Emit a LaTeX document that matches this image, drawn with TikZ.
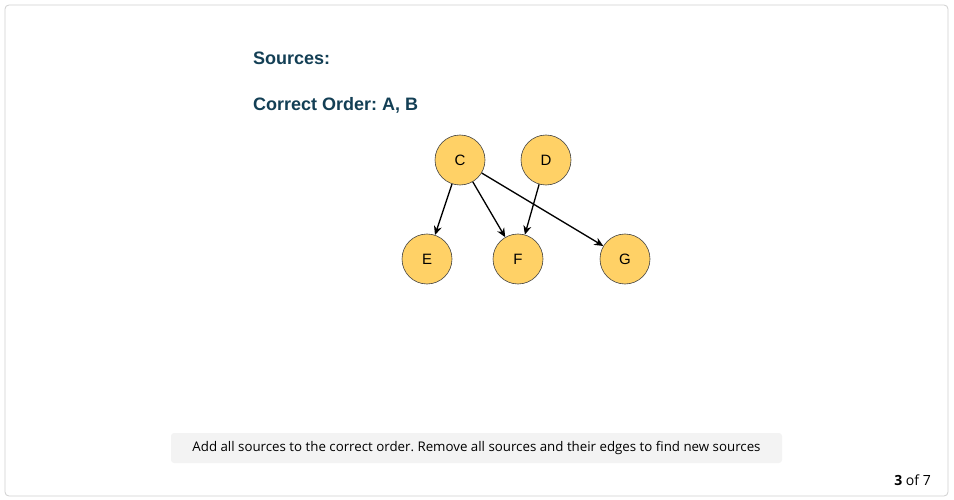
\documentclass[tikz,border=0pt]{standalone}
\usepackage{fontspec}
\setmainfont{Liberation Sans}
\newfontfamily\notefont{Open Sans}
\usetikzlibrary{arrows.meta}
\definecolor{headblue}{HTML}{133F55}
\definecolor{nodefill}{HTML}{FFD166}
\definecolor{framegray}{HTML}{CFCFCF}
\definecolor{notegray}{HTML}{F3F3F3}
\frenchspacing

\tikzset{
  vert/.style={circle, draw=black!75, fill=nodefill, line width=0.6pt,
    minimum size=50pt, inner sep=0pt, font=\fontsize{15}{18}\selectfont},
  edge/.style={-{Stealth[length=9pt,width=8pt]}, line width=1.3pt},
  head/.style={anchor=base west, inner sep=0pt, headblue, font=\fontsize{18}{22}\selectfont\bfseries}
}

\begin{document}
\begin{tikzpicture}[x=1pt,y=-1pt]
\useasboundingbox (0,0) rectangle (954,500);
% card
\draw [framegray, rounded corners=4pt, line width=0.8pt] (5,5) rectangle (948,496);
% headings
\node (src) [head] at (253,65) {Sources:};
\node (ord) [head] at (253,111) {Correct Order: A, B};
% graph
\node (C) [vert] at (460,160) {C};
\node (D) [vert] at (546,160) {D};
\node (E) [vert] at (427,259) {E};
\node (F) [vert] at (518,259) {F};
\node (G) [vert] at (625,259) {G};
\draw [edge] (C) -- (E);
\draw [edge] (C) -- (F);
\draw [edge] (C) -- (G);
\draw [edge] (D) -- (F);
% hint bar
\fill [notegray, rounded corners=3pt] (171,433) rectangle (782,463);
\node (hint) [font=\notefont\fontsize{13.3}{16}\selectfont] at (476.5,448) {Add all sources to the correct order. Remove all sources and their edges to find new sources};
% page count
\node (page) [anchor=base east, inner sep=0pt, font=\notefont\fontsize{14}{16}\selectfont] at (931,485) {\textbf{3} of 7};
\end{tikzpicture}
\end{document}
